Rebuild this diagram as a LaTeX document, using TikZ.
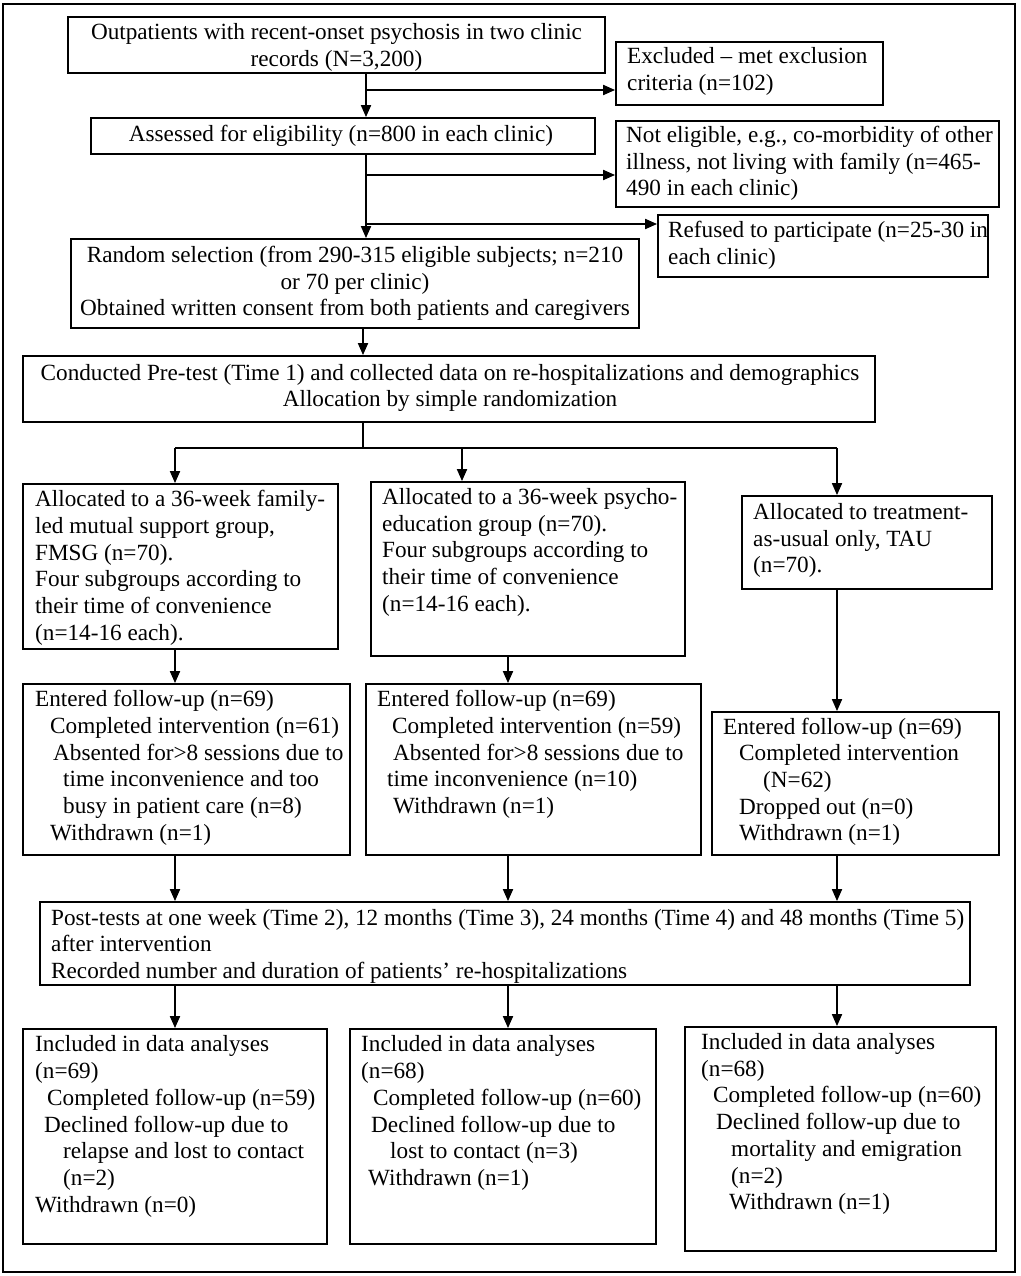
\documentclass[tikz,border=0pt]{standalone}
\usepackage{fontspec}
\setmainfont{Liberation Serif}
\usetikzlibrary{arrows.meta}
\newcommand\tfont{\fontsize{23.2}{26.7}\selectfont}
\newcommand\drawbox[5]{\node[box,minimum width={(#4-#2)*1pt},minimum height={(#5-#3)*1pt}] (#1) at ({(#2+#4)/2},{(#3+#5)/2}) {};}
\tikzset{
  box/.style={draw, line width=1.8pt, inner sep=0pt, fill=none},
  txt/.style={anchor=north west, inner sep=0pt, align=left, font=\tfont},
  ctxt/.style={anchor=north, inner sep=0pt, align=center, font=\tfont},
  arr/.style={line width=1.8pt, -{Triangle[length=12pt,width=10pt]}},
  ln/.style={line width=1.8pt}
}
\begin{document}
\begin{tikzpicture}[x=1pt,y=-1pt]
\useasboundingbox (0,0) rectangle (1020,1276);
\draw[ln] (3,4) rectangle (1015,1272);
% boxes
\drawbox{box1}{68}{17}{605}{73}
\drawbox{excl}{616}{42}{883}{105}
\drawbox{assess}{91}{118}{595}{154}
\drawbox{noteli}{616}{121}{999}{207}
\drawbox{refused}{658}{215}{988}{277}
\drawbox{random}{71}{239}{639}{328}
\drawbox{pretest}{23}{356}{875}{422}
\drawbox{fmsg}{23}{484}{338}{649}
\drawbox{psych}{371}{482}{685}{656}
\drawbox{tau}{742}{496}{992}{589}
\drawbox{ent1}{23}{684}{350}{855}
\drawbox{ent2}{366}{684}{701}{855}
\drawbox{ent3}{712}{712}{999}{855}
\drawbox{post}{40}{902}{970}{985}
\drawbox{inc1}{23}{1029}{327}{1244}
\drawbox{inc2}{350}{1029}{656}{1244}
\drawbox{inc3}{685}{1027}{996}{1251}
% texts
\node[ctxt] (t-box1) at (336.5,20.6) {\strut Outpatients with recent-onset psychosis in two clinic\\records (N=3,200)};
\node[txt] (t-excl) at (627,44.6) {\strut Excluded – met exclusion\\criteria (n=102)};
\node[ctxt] (t-assess) at (341,123) {\strut Assessed for eligibility (n=800 in each clinic)};
\node[txt] (t-noteli) at (626,123.6) {\strut Not eligible, e.g., co-morbidity of other\\illness, not living with family (n=465-\\490 in each clinic)};
\node[txt] (t-refused) at (668,218.6) {\strut Refused to participate (n=25-30 in\\each clinic)};
\node[ctxt] (t-random) at (355,243.6) {\strut Random selection (from 290-315 eligible subjects; n=210\\or 70 per clinic)\\Obtained written consent from both patients and caregivers};
\node[ctxt] (t-pretest) at (450,361.3) {\strut Conducted Pre-test (Time 1) and collected data on re-hospitalizations and demographics\\Allocation by simple randomization};
\node[txt] (t-fmsg) at (35,487.8) {\strut Allocated to a 36-week family-\\led mutual support group,\\FMSG (n=70).\\Four subgroups according to\\their time of convenience\\(n=14-16 each).};
\node[txt] (t-psych) at (382,485.6) {\strut Allocated to a 36-week psycho-\\education group (n=70).\\Four subgroups according to\\their time of convenience\\(n=14-16 each).};
\node[txt] (t-tau) at (753,500.6) {\strut Allocated to treatment-\\as-usual only, TAU\\(n=70).};
\node[txt] (t-ent1) at (35,688) {\strut Entered follow-up (n=69)\\\hspace*{15pt}Completed intervention (n=61)\\\hspace*{18pt}Absented for>8 sessions due to\\\hspace*{28pt}time inconvenience and too\\\hspace*{28pt}busy in patient care (n=8)\\\hspace*{15pt}Withdrawn (n=1)};
\node[txt] (t-ent2) at (377,688) {\strut Entered follow-up (n=69)\\\hspace*{15pt}Completed intervention (n=59)\\\hspace*{16pt}Absented for>8 sessions due to\\\hspace*{10pt}time inconvenience (n=10)\\\hspace*{16pt}Withdrawn (n=1)};
\node[txt] (t-ent3) at (723,715.3) {\strut Entered follow-up (n=69)\\\hspace*{16pt}Completed intervention\\\hspace*{40pt}(N=62)\\\hspace*{16pt}Dropped out (n=0)\\\hspace*{16pt}Withdrawn (n=1)};
\node[txt] (t-post) at (51,906.3) {\strut Post-tests at one week (Time 2), 12 months (Time 3), 24 months (Time 4) and 48 months (Time 5)\\after intervention\\Recorded number and duration of patients’ re-hospitalizations};
\node[txt] (t-inc1) at (35,1033) {\strut Included in data analyses\\(n=69)\\\hspace*{12pt}Completed follow-up (n=59)\\\hspace*{9pt}Declined follow-up due to\\\hspace*{28pt}relapse and lost to contact\\\hspace*{28pt}(n=2)\\Withdrawn (n=0)};
\node[txt] (t-inc2) at (361,1033) {\strut Included in data analyses\\(n=68)\\\hspace*{12pt}Completed follow-up (n=60)\\\hspace*{10pt}Declined follow-up due to\\\hspace*{29pt}lost to contact (n=3)\\\hspace*{7pt}Withdrawn (n=1)};
\node[txt] (t-inc3) at (701,1030.6) {\strut Included in data analyses\\(n=68)\\\hspace*{12pt}Completed follow-up (n=60)\\\hspace*{15pt}Declined follow-up due to\\\hspace*{30pt}mortality and emigration\\\hspace*{30pt}(n=2)\\\hspace*{28pt}Withdrawn (n=1)};
% connectors
\coordinate (sp) at (366,0);
\coordinate (sp2) at (363,0);
\coordinate (j1) at (366,90);
\coordinate (j2) at (366,175);
\coordinate (j3) at (366,224);
\coordinate (br) at (363,448);
\coordinate (bL) at (175,448);
\coordinate (bM) at (462,448);
\coordinate (bR) at (837,448);
\coordinate (cL) at (175,0);
\coordinate (cM) at (508,0);
\coordinate (cR) at (837,0);
\draw[arr] (box1.south -| sp) -- (assess.north -| sp);
\draw[arr] (j1) -- (j1 -| excl.west);
\draw[arr] (assess.south -| sp) -- (random.north -| sp);
\draw[arr] (j2) -- (j2 -| noteli.west);
\draw[arr] (j3) -- (j3 -| refused.west);
\draw[arr] (random.south -| sp2) -- (pretest.north -| sp2);
\draw[ln] (pretest.south -| br) -- (br);
\draw[ln] (bL) -- (bR);
\draw[arr] (bL) -- (fmsg.north -| bL);
\draw[arr] (bM) -- (psych.north -| bM);
\draw[arr] (bR) -- (tau.north -| bR);
\draw[arr] (fmsg.south -| cL) -- (ent1.north -| cL);
\draw[arr] (psych.south -| cM) -- (ent2.north -| cM);
\draw[arr] (tau.south -| cR) -- (ent3.north -| cR);
\draw[arr] (ent1.south -| cL) -- (post.north -| cL);
\draw[arr] (ent2.south -| cM) -- (post.north -| cM);
\draw[arr] (ent3.south -| cR) -- (post.north -| cR);
\draw[arr] (post.south -| cL) -- (inc1.north -| cL);
\draw[arr] (post.south -| cM) -- (inc2.north -| cM);
\draw[arr] (post.south -| cR) -- (inc3.north -| cR);
\end{tikzpicture}
\end{document}
